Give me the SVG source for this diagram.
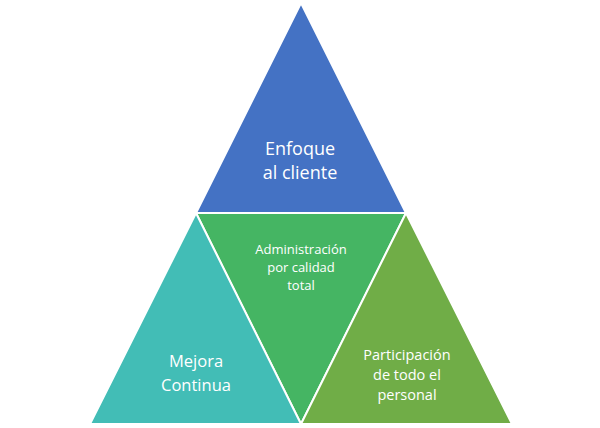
<svg xmlns="http://www.w3.org/2000/svg" width="600" height="428" viewBox="0 0 600 428">
<style>
.tri{stroke:#ffffff;stroke-width:2;stroke-linejoin:miter}
.t{fill:#ffffff;font-family:"Open Sans","Liberation Sans",sans-serif;text-anchor:middle}
</style>
<rect width="600" height="428" fill="#ffffff"/>
<g id="top">
<polygon class="tri" points="301,3 406,213 196,213" fill="#4472C4"/>
<text class="t" font-size="18" x="300" y="155">Enfoque</text>
<text class="t" font-size="18" x="300" y="179">al cliente</text>
</g>
<g id="middle">
<polygon class="tri" points="196,213 406,213 301,424" fill="#45B563"/>
<text class="t" font-size="13" x="301" y="254">Administración</text>
<text class="t" font-size="13" x="301" y="272">por calidad</text>
<text class="t" font-size="13" x="301" y="290">total</text>
</g>
<g id="left">
<polygon class="tri" points="196,213 301,424 90,424" fill="#42BDB6"/>
<text class="t" font-size="16.5" x="196" y="367">Mejora</text>
<text class="t" font-size="16.5" x="196" y="391">Continua</text>
</g>
<g id="right">
<polygon class="tri" points="406,213 512,424 301,424" fill="#70AD47"/>
<text class="t" font-size="14.5" x="407" y="360">Participación</text>
<text class="t" font-size="14.5" x="407" y="380">de todo el</text>
<text class="t" font-size="14.5" x="407" y="400">personal</text>
</g>
<g id="connectors"></g>
</svg>
